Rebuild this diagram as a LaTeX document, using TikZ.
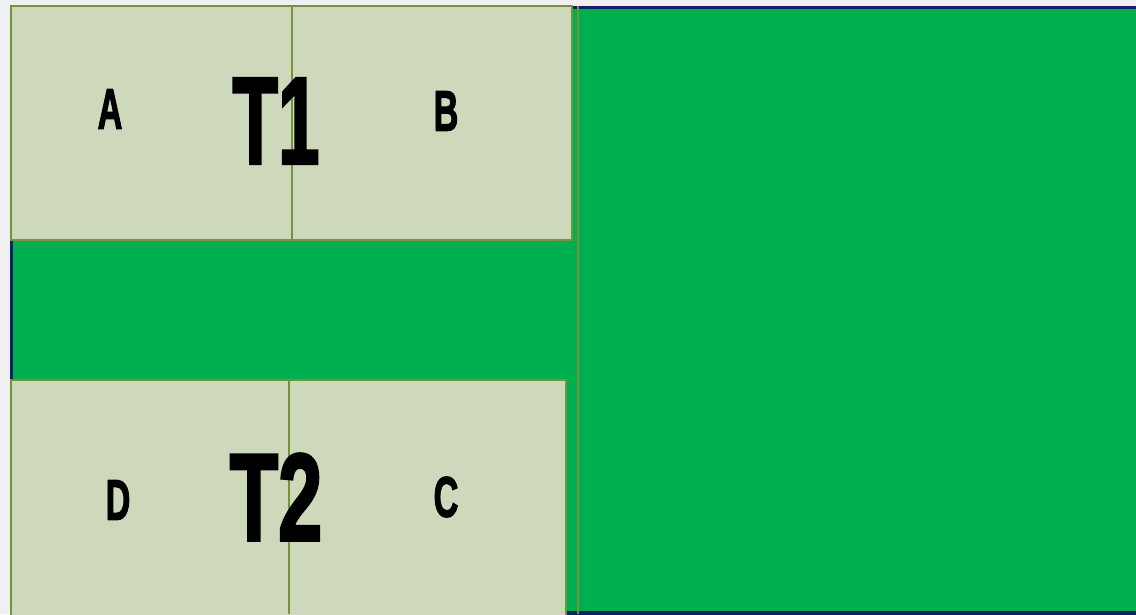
\documentclass[tikz,border=0pt]{standalone}
\usepackage{fontspec}
\setmainfont{Liberation Sans}
\newfontfamily\heavylabel{Liberation Sans}[FakeBold=2.5]
\usepackage{graphicx}
\usetikzlibrary{calc}

\definecolor{pagegray}{HTML}{F0F0F0}
\definecolor{fieldgreen}{HTML}{00AF50}
\definecolor{framenavy}{HTML}{0C2266}
\definecolor{boxsage}{HTML}{CED8BA}
\definecolor{lineolive}{HTML}{76923C}

\tikzset{
  tablebox/.style={fill=boxsage, draw=lineolive, line width=2pt},
  seatlabel/.style={inner sep=0pt, font=\heavylabel\bfseries\fontsize{57}{57}\selectfont},
  tablelabel/.style={inner sep=0pt, font=\heavylabel\bfseries\fontsize{124}{124}\selectfont}
}

\begin{document}
\begin{tikzpicture}[x=1pt, y=-1pt]

\useasboundingbox (0,0) rectangle (1136,614);
\fill[pagegray] (0,0) rectangle (1136,614);

% green floor with navy frame
\fill[fieldgreen] (11,7) rectangle (1136,613);
\draw[framenavy, line width=3.5pt] (1138,7.5) -- (11.5,7.5) -- (11.5,613) -- (1138,613);
\draw[lineolive, line width=2pt] (578,6) -- (578,614);

% table 1
\draw[tablebox] (10.5,5.5) rectangle (572,240);
\draw[lineolive, line width=1.5pt] (292,5.5) -- (292,240);
\node[seatlabel] (seatA) at (110,109) {\scalebox{0.6}[1]{A}};
\node[seatlabel] (seatB) at (446,111) {\scalebox{0.6}[1]{B}};
\node[tablelabel] (tableT1) at (276,121) {\scalebox{0.6}[1]{T1}};

% table 2
\draw[tablebox] (10.5,379.5) rectangle (566,618);
\draw[lineolive, line width=1.5pt] (289,379.5) -- (289,614);
\node[seatlabel] (seatD) at (118,500) {\scalebox{0.6}[1]{D}};
\node[seatlabel] (seatC) at (446,497) {\scalebox{0.6}[1]{C}};
\node[tablelabel] (tableT2) at (276,497) {\scalebox{0.64}[1]{T2}};

\end{tikzpicture}
\end{document}
